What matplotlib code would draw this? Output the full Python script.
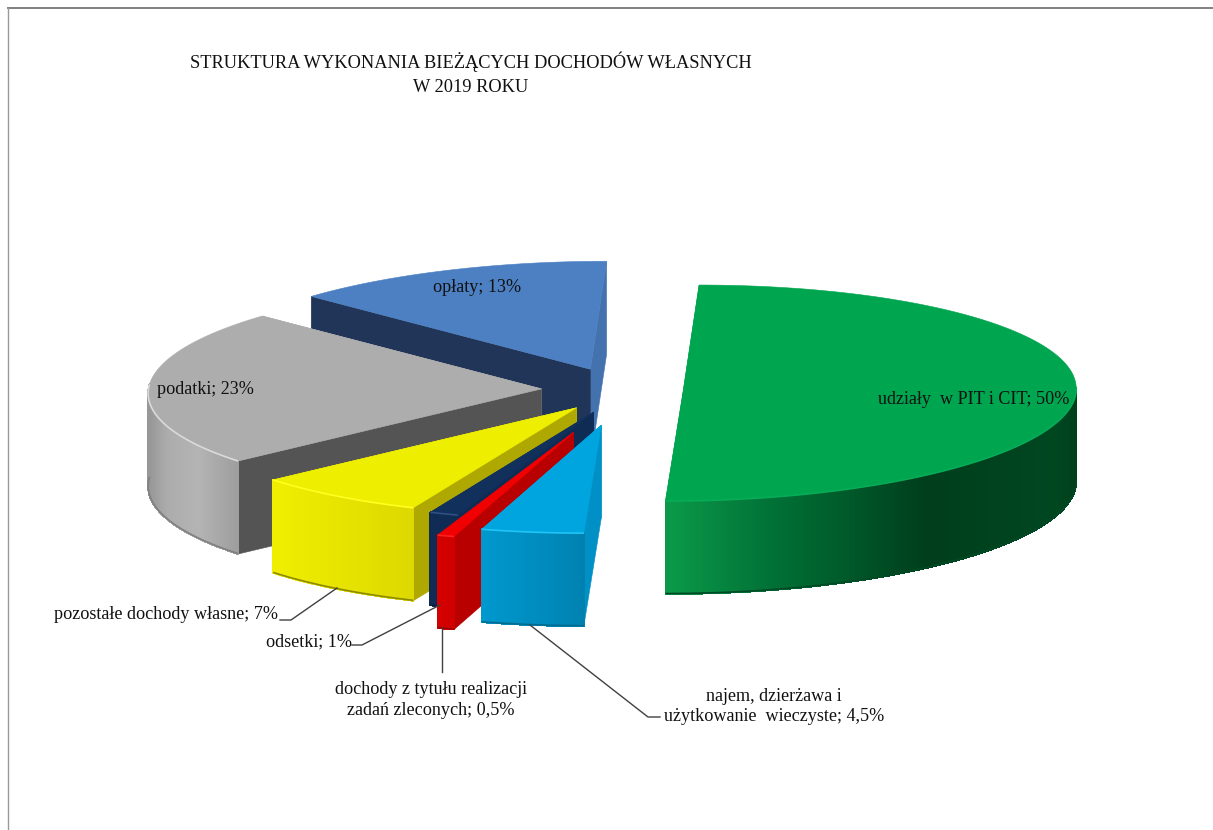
import numpy as np
import matplotlib
matplotlib.use("Agg")
import matplotlib.pyplot as plt
from matplotlib.collections import PolyCollection
from matplotlib.colors import to_rgb
from matplotlib.patches import Polygon

# ---- data (clockwise from 12 o'clock) ----
categories = ["udziały  w PIT i CIT", "najem, dzierżawa i użytkowanie  wieczyste",
              "dochody z tytułu realizacji zadań zleconych", "odsetki",
              "pozostałe dochody własne", "podatki", "opłaty"]
# slice sizes as measured on the drawn pie; the printed labels are rounded
values = [50.0, 4.2, 0.7, 1.2, 7.2, 23.4, 13.2]
value_labels = ["50%", "4,5%", "0,5%", "1%", "7%", "23%", "13%"]
title_lines = ["STRUKTURA WYKONANIA BIEŻĄCYCH DOCHODÓW WŁASNYCH", "W 2019 ROKU"]

# ---- styles ----
explode = [0.155, 0.30, 0.38, 0.19, 0.19, 0.205, 0.22]
lift = [0, 0, 0, 0, -2, -4, -2]
top_col = ["#00A54F", "#00A5E0", "#F00000", "#12305C", "#EEEE00", "#ADADAD", "#4C80C2"]
wall_start = ["#00A54F", "#0090C6", "#B80000", "#0F2C55", "#AFA800", "#545454", "#213558"]
wall_end = ["#00A54F", "#00A5E0", "#F00000", "#12305C", "#EEEE00", "#ADADAD", "#4472AE"]
rim_stops = [
    [(0, "#0B9A49"), (.27, "#006F35"), (.43, "#005B2B"), (.63, "#003E1C"), (.95, "#004720"), (1, "#003F1C")],
    [(0, "#0098CF"), (1, "#0082B0")],
    [(0, "#D40000"), (1, "#D00000")],
    [(0, "#102C55"), (1, "#102C55")],
    [(0, "#F0EE00"), (1, "#DDD800")],
    [(0, "#969696"), (.2, "#ACACAC"), (.55, "#B4B4B4"), (1, "#9D9D9D")],
    [(0, "#4472AE"), (1, "#4472AE")],
]
edge_hi = ["#06AC57", "#20C4F5", "#FF2020", "#2F4F7F", "#FFFF20", "#DADADA", "#5A8CCB"]
edge_lo = ["#004A26", "#006C90", "#A00000", "#0A2040", "#8E8A00", "#808080", "#3A5F90"]

CX, CY, RX, RY, SKEW, DEPTH = 622, 393, 393, 108, -0.15, 93
W, H = 1213, 830

plt.rcParams["font.family"] = ["Liberation Serif", "DejaVu Serif"]
fig = plt.figure(figsize=(W / 100, H / 100), dpi=100, facecolor="white")
ax = fig.add_axes([0, 0, 1, 1])
ax.set_xlim(0, W)
ax.set_ylim(H, 0)
ax.axis("off")


def project(theta, r, bis, e, dy=0):
    X = e * np.sin(bis) + r * np.sin(theta)
    Y = -(e * np.cos(bis) + r * np.cos(theta))
    return CX + RX * X + SKEW * RY * Y, CY + RY * Y + dy


def grad(stops, t):
    ps = [s[0] for s in stops]
    cs = np.array([to_rgb(s[1]) for s in stops])
    return [np.interp(t, ps, cs[:, i]) for i in range(3)]


shares = np.array(values, float) / np.sum(values)
edges = np.concatenate([[0], np.cumsum(shares)]) * 2 * np.pi
# painter order: back slices first
order = [0, 6, 5, 4, 3, 2, 1]
for z, i in enumerate(order):
    a0, a1 = edges[i], edges[i + 1]
    bis = (a0 + a1) / 2
    e = explode[i]
    th = np.linspace(a0, a1, max(6, int((a1 - a0) * 120)))
    ax_, ay_ = project(bis, 0, bis, e, lift[i])
    rx_, ry_ = project(th, 1, bis, e, lift[i])
    base = 2 + z * 10
    # end wall, start wall
    for idx, col in ((-1, wall_end[i]), (0, wall_start[i])):
        ax.add_patch(Polygon([(ax_, ay_), (rx_[idx], ry_[idx]),
                              (rx_[idx], ry_[idx] + DEPTH), (ax_, ay_ + DEPTH)],
                             closed=True, fc=col, ec=col, lw=0.4, zorder=base))
    # rim with gradient along screen x, front-facing part only
    front = np.cos(th) < 0.05
    xf, yf = rx_[front], ry_[front]
    if len(xf) > 1:
        xmin, xmax = xf.min(), xf.max()
        quads, cols = [], []
        for j in range(len(xf) - 1):
            quads.append([(xf[j], yf[j]), (xf[j + 1], yf[j + 1]),
                          (xf[j + 1], yf[j + 1] + DEPTH), (xf[j], yf[j] + DEPTH)])
            cols.append(grad(rim_stops[i], ((xf[j] + xf[j + 1]) / 2 - xmin) / (xmax - xmin)))
        ax.add_collection(PolyCollection(quads, facecolors=cols, edgecolors=cols, linewidths=0.6,
                                         antialiaseds=False, zorder=base + 1))
        ax.plot(xf, yf + DEPTH - 0.5, color=edge_lo[i], lw=1.2, zorder=base + 2, solid_capstyle="butt")
    # top face
    ax.add_patch(Polygon(np.column_stack([np.r_[ax_, rx_], np.r_[ay_, ry_]]), closed=True,
                         fc=top_col[i], ec=top_col[i], lw=0.4, zorder=base + 3))
    if len(xf) > 1:
        ax.plot(xf, yf, color=edge_hi[i], lw=1.2, zorder=base + 4, solid_capstyle="butt")

# ---- frame ----
ax.plot([8, W], [8, 8], color="#808080", lw=1.4, zorder=100)
ax.plot([8, 8], [8, H], color="#9A9A9A", lw=1.0, zorder=100)

# ---- title ----
TF = 13.2
ax.text(471, 62, title_lines[0], ha="center", va="center", fontsize=TF, color="#111111", zorder=120)
ax.text(471, 87, title_lines[1], ha="center", va="center", fontsize=TF, color="#111111", zorder=120)

# ---- labels ----
FS = 13.1
TXT = "#111111"
ax.text(1069, 399, f"{categories[0]}; {value_labels[0]}", ha="right", va="center", fontsize=FS, color=TXT, zorder=120)
ax.text(477, 287, f"{categories[6]}; {value_labels[6]}", ha="center", va="center", fontsize=FS, color=TXT, zorder=120)
ax.text(205, 389, f"{categories[5]}; {value_labels[5]}", ha="center", va="center", fontsize=FS, color=TXT, zorder=120)
ax.text(165.5, 614, f"{categories[4]}; {value_labels[4]}", ha="center", va="center", fontsize=FS, color=TXT, zorder=120)
ax.text(308.5, 642, f"{categories[3]}; {value_labels[3]}", ha="center", va="center", fontsize=FS, color=TXT, zorder=120)
ax.text(431, 700, "dochody z tytułu realizacji\nzadań zleconych; " + value_labels[2], ha="center", va="center",
        fontsize=FS, color=TXT, linespacing=1.3, zorder=120)
ax.text(774, 706.5, "najem, dzierżawa i\nużytkowanie  wieczyste; " + value_labels[1], ha="center", va="center",
        fontsize=FS, color=TXT, linespacing=1.3, zorder=120)

# ---- leader lines ----
LC = "#404040"
for pts in ([(280, 620), (291, 620), (337, 588)],
            [(352, 645), (362, 645), (440, 605)],
            [(442, 627), (442, 672)],
            [(530, 625), (648, 717), (660, 717)]):
    ax.plot(*zip(*pts), color=LC, lw=1.0, zorder=110)

fig.savefig("out.png", dpi=100, facecolor="white")
